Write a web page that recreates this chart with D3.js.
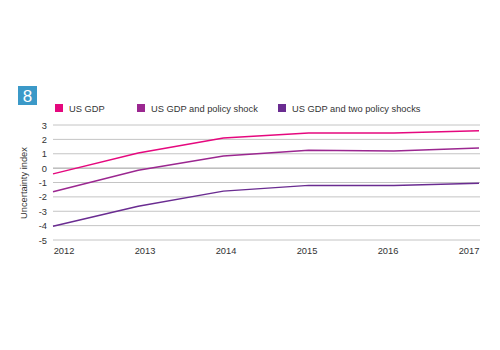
<!DOCTYPE html>
<html>
<head>
<meta charset="utf-8">
<script src="https://cdn.jsdelivr.net/npm/d3@7"></script>
<style>
  body { margin: 0; background: #fff; }
  text { font-family: "Liberation Sans", Arial, sans-serif; }
</style>
</head>
<body>
<div id="chart"></div>
<script>
// data
const years = ["2012", "2013", "2014", "2015", "2016", "2017"];
const usGdp = [-0.4, 1.05, 2.1, 2.45, 2.45, 2.6];
const policyShock = [-1.65, -0.15, 0.85, 1.25, 1.2, 1.4];
const twoShocks = [-4.05, -2.65, -1.6, -1.2, -1.2, -1.05];
const yTicks = [3, 2, 1, 0, -1, -2, -3, -4, -5];
const seriesNames = ["US GDP", "US GDP and policy shock", "US GDP and two policy shocks"];
const colors = ["#e5087e", "#9b2790", "#6a2c91"];

const width = 500, height = 350;

const svg = d3.select("#chart")
  .append("svg")
  .attr("width", width)
  .attr("height", height);

// figure number badge
svg.append("rect")
  .attr("x", 18).attr("y", 86)
  .attr("width", 19).attr("height", 19)
  .attr("fill", "#3b99c8");
svg.append("text")
  .attr("x", 27.5).attr("y", 101.5)
  .attr("text-anchor", "middle")
  .attr("fill", "#fff")
  .style("font-size", "17px")
  .text("8");

// scales
const x = d3.scalePoint().domain(years).range([53, 479]);
const xLabel = d3.scalePoint().domain(years).range([64, 469]);
const y = d3.scaleLinear().domain([-5, 3]).range([240, 125]);

// grid lines
svg.append("g")
  .selectAll("line")
  .data(yTicks)
  .join("line")
    .attr("x1", 53).attr("x2", 480)
    .attr("y1", d => y(d)).attr("y2", d => y(d))
    .attr("stroke", d => d === 0 ? "#9a9a9a" : "#c4c4c4")
    .attr("stroke-width", 1);

// y tick labels
svg.append("g")
  .selectAll("text")
  .data(yTicks)
  .join("text")
    .attr("x", 47)
    .attr("y", d => y(d) + 3.5)
    .attr("text-anchor", "end")
    .attr("fill", "#333")
    .style("font-size", "9.3px")
    .text(d => d);

// x labels
svg.append("g")
  .selectAll("text")
  .data(years)
  .join("text")
    .attr("x", d => xLabel(d))
    .attr("y", 254)
    .attr("text-anchor", "middle")
    .attr("fill", "#333")
    .style("font-size", "9.3px")
    .text(d => d);

// y axis title
svg.append("text")
  .attr("transform", "translate(27,183) rotate(-90)")
  .attr("text-anchor", "middle")
  .attr("fill", "#333")
  .style("font-size", "9.3px")
  .text("Uncertainty index");

// lines
const line = d3.line()
  .x((d, i) => x(years[i]))
  .y(d => y(d));

[usGdp, policyShock, twoShocks].forEach((s, i) => {
  svg.append("path")
    .datum(s)
    .attr("fill", "none")
    .attr("stroke", colors[i])
    .attr("stroke-width", 1.5)
    .attr("d", line);
});

// legend
const legendX = [55, 137, 278];
seriesNames.forEach((name, i) => {
  svg.append("rect")
    .attr("x", legendX[i]).attr("y", 104)
    .attr("width", 8).attr("height", 8)
    .attr("fill", colors[i]);
  svg.append("text")
    .attr("x", legendX[i] + 14).attr("y", 112)
    .attr("fill", "#333")
    .style("font-size", "9.3px")
    .text(name);
});
</script>
</body>
</html>
